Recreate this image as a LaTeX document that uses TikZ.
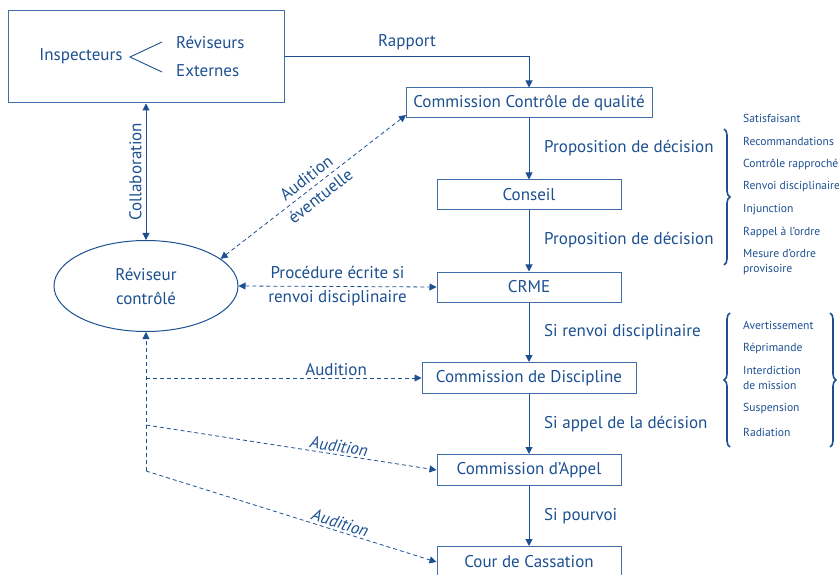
\documentclass[tikz,border=0pt]{standalone}
\usepackage{fontspec}
\setmainfont{PT Sans}
\usetikzlibrary{arrows.meta,decorations.pathreplacing,shapes.geometric}
\definecolor{tblue}{RGB}{28,80,145}
\definecolor{bblue}{RGB}{65,110,170}
\tikzset{
  box/.style={draw=bblue,line width=1pt,rectangle,inner sep=0pt,text=tblue,font=\fontsize{17}{19}\selectfont},
  lbl/.style={text=tblue,font=\fontsize{17}{19}\selectfont,inner sep=1pt},
  item/.style={text=tblue,font=\fontsize{11.6}{14.5}\selectfont,anchor=west,inner sep=0pt,align=left},
  arr/.style={draw=tblue,line width=1pt,-{Triangle[length=7pt,width=7pt]}},
  darr/.style={draw=tblue,line width=1pt,{Triangle[length=7pt,width=7pt]}-{Triangle[length=7pt,width=7pt]}},
  dsh/.style={draw=tblue,line width=0.8pt,dash pattern=on 4pt off 3pt},
  tip/.style={-{Triangle[length=7pt,width=7pt]}},
  brc/.style={draw=tblue,line width=1.6pt,decorate,decoration={brace,amplitude=6pt}}
}
\begin{document}
\begin{tikzpicture}[x=1pt,y=-1pt]
\useasboundingbox (0,0) rectangle (839,575);
% top box
\node[box,minimum width=276pt,minimum height=92pt] (top) at (146,57) {};
\node[lbl] (insp) at (81,56) {Inspecteurs};
\node[lbl,anchor=west] (rev) at (175,42) {Réviseurs};
\node[lbl,anchor=west] (ext) at (175,71) {Externes};
\coordinate (vtip) at (130,57);
\coordinate (v1) at (162,42);
\coordinate (v2) at (162,72);
\draw[draw=tblue,line width=0.9pt] (v1) -- (vtip) -- (v2);
% chain
\node[box,minimum width=246pt,minimum height=30pt] (ccq) at (529,103) {Commission Contrôle de qualité};
\node[box,minimum width=184pt,minimum height=30pt] (cons) at (529,195) {Conseil};
\node[box,minimum width=184pt,minimum height=30pt] (crme) at (529,287) {CRME};
\node[box,minimum width=214pt,minimum height=31pt] (cd) at (529,378) {Commission de Discipline};
\node[box,minimum width=184pt,minimum height=31pt] (ca) at (529,470) {Commission d’Appel};
\node[box,minimum width=184pt,minimum height=31pt] (cc) at (529,562) {Cour de Cassation};
% ellipse
\node[ellipse,draw=tblue,line width=1pt,minimum width=184pt,minimum height=91pt,inner sep=0pt,text=tblue,align=center,font=\fontsize{17}{24}\selectfont] (rc) at (146,286) {Réviseur\\contrôlé};
% solid arrows
\draw[arr] (top.east) -| (ccq.north);
\node[lbl] (rap) at (407,42) {Rapport};
\draw[arr] (ccq) -- (cons);
\draw[arr] (cons) -- (crme);
\draw[arr] (crme) -- (cd);
\draw[arr] (cd) -- (ca);
\draw[arr] (ca) -- (cc);
\node[lbl,anchor=west] (p1) at (543,148) {Proposition de décision};
\node[lbl,anchor=west] (p2) at (543,240) {Proposition de décision};
\node[lbl,anchor=west] (p3) at (543,332) {Si renvoi disciplinaire};
\node[lbl,anchor=west] (p4) at (543,424) {Si appel de la décision};
\node[lbl,anchor=west] (p5) at (543,516) {Si pourvoi};
% collaboration
\draw[darr] (top.south) -- (rc.north) node[midway,lbl,rotate=90,above=3pt] {Collaboration};
% dashed
\coordinate (ccqc) at (406,115);
\draw[dsh,{Triangle[length=7pt,width=7pt]}-{Triangle[length=7pt,width=7pt]}] (rc.20) -- (ccqc)
  node[midway,sloped,lbl,align=center,font=\fontsize{17}{23}\selectfont] (ae) {Audition\\éventuelle};
\draw[dsh,{Triangle[length=7pt,width=7pt]}-{Triangle[length=7pt,width=7pt]}] (rc.east) -- (crme.west)
  node[midway,lbl,align=center,font=\fontsize{17}{24}\selectfont] (pe) {Procédure écrite si\\renvoi disciplinaire};
\coordinate (b1) at (146,378);
\coordinate (b2) at (146,425);
\coordinate (b3) at (146,471);
\draw[dsh,tip] (b3) -- (rc.south);
\draw[dsh,tip] (b1) -- (cd.west) node[pos=0.69,above=1pt,lbl] {Audition};
\draw[dsh,tip] (b2) -- (ca.west) node[pos=0.66,sloped,above=1pt,lbl] {\itshape Audition};
\draw[dsh,tip] (b3) -- (cc.west) node[pos=0.66,sloped,above=1pt,lbl] {\itshape Audition};
% braces
\coordinate (br1a) at (724,129);
\coordinate (br1b) at (724,265);
\draw[brc] (br1a) -- (br1b);
\node[item] (i1) at (743,118) {Satisfaisant};
\node[item] (i2) at (743,141) {Recommandations};
\node[item] (i3) at (743,164) {Contrôle rapproché};
\node[item] (i4) at (743,187) {Renvoi disciplinaire};
\node[item] (i5) at (743,210) {Injunction};
\node[item] (i6) at (743,232) {Rappel à l’ordre};
\node[item] (i7) at (743,262) {Mesure d’ordre\\provisoire};
\coordinate (br2a) at (730,447);
\coordinate (br2b) at (730,313);
\draw[brc] (br2a) -- (br2b);
\coordinate (br3a) at (830,313);
\coordinate (br3b) at (830,447);
\draw[brc] (br3a) -- (br3b);
\node[item] (j1) at (743,325) {Avertissement};
\node[item] (j2) at (743,348) {Réprimande};
\node[item] (j3) at (743,378) {Interdiction\\de mission};
\node[item] (j4) at (743,409) {Suspension};
\node[item] (j5) at (743,432) {Radiation};
\end{tikzpicture}
\end{document}
